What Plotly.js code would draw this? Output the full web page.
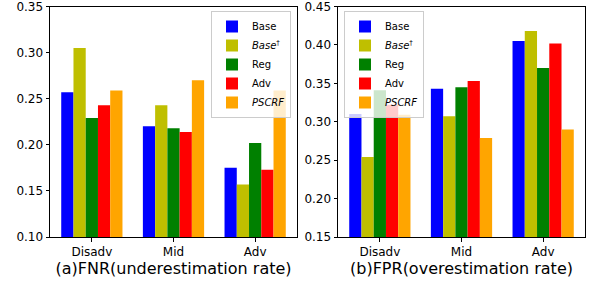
<!DOCTYPE html>
<html><head><meta charset="utf-8">
<script src="https://cdn.plot.ly/plotly-3.0.1.min.js"></script>
<style>body{margin:0;padding:0;background:#fff}#chart{width:594px;height:283px}</style>
</head><body><div id="chart"></div>
<script>
const categories = ["Disadv", "Mid", "Adv"];
const seriesNames = ["Base", "<i>Base</i><sup>†</sup>", "Reg", "Adv", "<i>PSCRF</i>"];
const seriesColors = ["#0000ff", "#bfbf00", "#008000", "#ff0000", "#ffa500"];
const fnrBase   = [0.257, 0.220, 0.175];
const fnrBaseD  = [0.305, 0.243, 0.157];
const fnrReg    = [0.229, 0.218, 0.202];
const fnrAdv    = [0.243, 0.214, 0.173];
const fnrPSCRF  = [0.259, 0.270, 0.259];
const fprBase   = [0.310, 0.343, 0.405];
const fprBaseD  = [0.254, 0.307, 0.418];
const fprReg    = [0.341, 0.345, 0.370];
const fprAdv    = [0.322, 0.353, 0.402];
const fprPSCRF  = [0.309, 0.279, 0.290];
const fnrTicks = [0.10, 0.15, 0.20, 0.25, 0.30, 0.35];
const fprTicks = [0.15, 0.20, 0.25, 0.30, 0.35, 0.40, 0.45];
const titleA = "(a)FNR(underestimation rate)";
const titleB = "(b)FPR(overestimation rate)";

const fnr = [fnrBase, fnrBaseD, fnrReg, fnrAdv, fnrPSCRF];
const fpr = [fprBase, fprBaseD, fprReg, fprAdv, fprPSCRF];
const catIdx = categories.map((c, i) => i);
const traces = [];
fnr.forEach((vals, i) => traces.push({type: "bar", x: catIdx, y: vals, name: seriesNames[i],
  marker: {color: seriesColors[i], line: {width: 0}}, xaxis: "x", yaxis: "y", legend: "legend"}));
fpr.forEach((vals, i) => traces.push({type: "bar", x: catIdx, y: vals, name: seriesNames[i],
  marker: {color: seriesColors[i], line: {width: 0}}, xaxis: "x2", yaxis: "y2", legend: "legend2"}));

const font = {family: "DejaVu Sans", size: 12, color: "#000"};
const axCommon = {showline: true, linecolor: "#000", linewidth: 1, mirror: true, ticks: "outside",
  ticklen: 3.5, tickcolor: "#000", showgrid: false, zeroline: false, ticklabeloverflow: "allow",
  tickfont: {family: "DejaVu Sans", size: 12, color: "#000"}};
const legCommon = {bgcolor: "rgba(255,255,255,0.8)", bordercolor: "#cccccc", borderwidth: 1,
  font: {family: "DejaVu Sans", size: 10, color: "#000"}, yanchor: "top", tracegroupgap: 0};
const layout = {
  width: 594, height: 283, margin: {l: 0, r: 0, t: 0, b: 0},
  paper_bgcolor: "#fff", plot_bgcolor: "#fff", font: font,
  barmode: "group", bargap: 0.25, bargroupgap: 0,
  xaxis: Object.assign({}, axCommon, {domain: [50/594, 297/594], range: [-0.5125, 2.5125],
    tickvals: catIdx, ticktext: categories, anchor: "y",
    title: {text: titleA, font: {family: "DejaVu Sans", size: 16, color: "#000"}, standoff: 0}}),
  yaxis: Object.assign({}, axCommon, {domain: [1 - 237/283, 1 - 6.5/283], range: [0.10, 0.35],
    tickvals: fnrTicks, tickformat: ".2f", anchor: "x"}),
  xaxis2: Object.assign({}, axCommon, {domain: [338/594, 585/594], range: [-0.5125, 2.5125],
    tickvals: catIdx, ticktext: categories, anchor: "y2",
    title: {text: titleB, font: {family: "DejaVu Sans", size: 16, color: "#000"}, standoff: 0}}),
  yaxis2: Object.assign({}, axCommon, {domain: [1 - 237/283, 1 - 6.5/283], range: [0.15, 0.45],
    tickvals: fprTicks, tickformat: ".2f", anchor: "x2"}),
  legend: Object.assign({}, legCommon, {x: 291/594, xanchor: "right", y: 1 - 11/283}),
  legend2: Object.assign({}, legCommon, {x: 344/594, xanchor: "left", y: 1 - 11/283}),
  showlegend: true
};
Plotly.newPlot("chart", traces, layout, {displayModeBar: false, staticPlot: true});
</script></body></html>
